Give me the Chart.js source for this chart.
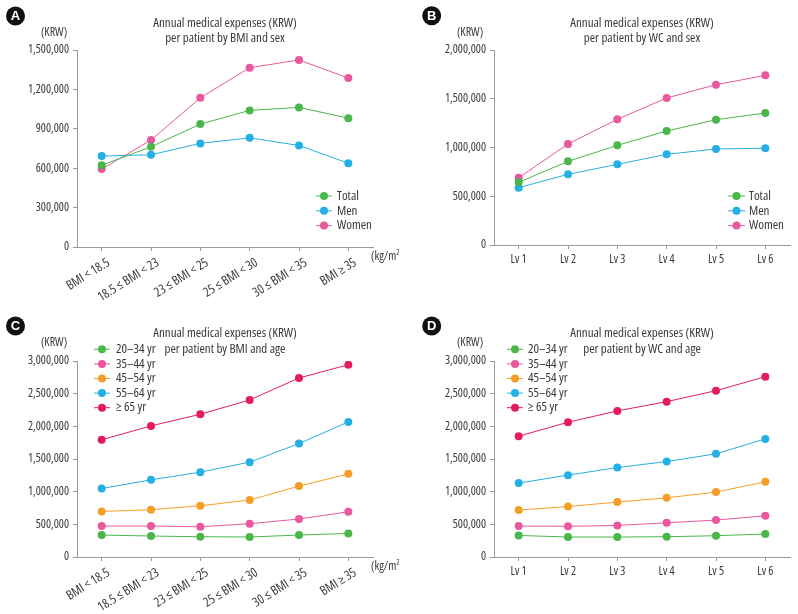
<!DOCTYPE html>
<html><head><meta charset="utf-8">
<script src="https://cdn.jsdelivr.net/npm/chart.js@4/dist/chart.umd.min.js"></script>
<style>
body{margin:0;background:#fff;width:798px;height:614px;position:relative;overflow:hidden}
.p{position:absolute;width:399px;height:307px}
</style></head><body>
<div class="p" style="left:0;top:0"><canvas id="cA" width="399" height="307"></canvas></div>
<div class="p" style="left:399px;top:0"><canvas id="cB" width="399" height="307"></canvas></div>
<div class="p" style="left:0;top:307px"><canvas id="cC" width="399" height="307"></canvas></div>
<div class="p" style="left:399px;top:307px"><canvas id="cD" width="399" height="307"></canvas></div>
<script>
// ---- data ----
const bmiLabels = ['BMI < 18.5', '18.5 \u2264 BMI < 23', '23 \u2264 BMI < 25', '25 \u2264 BMI < 30', '30 \u2264 BMI < 35', 'BMI \u2265 35'];
const wcLabels = ['Lv 1', 'Lv 2', 'Lv 3', 'Lv 4', 'Lv 5', 'Lv 6'];
const sexNames = ['Total', 'Men', 'Women'];
const ageNames = ['20\u201334 yr', '35\u201344 yr', '45\u201354 yr', '55\u201364 yr', '\u2265 65 yr'];

const aTotal = [623000, 763000, 936000, 1040000, 1063000, 981000];
const aMen   = [692000, 702000, 789000, 831000, 773000, 638000];
const aWomen = [593000, 814000, 1136000, 1365000, 1424000, 1286000];

const bTotal = [643000, 858000, 1022000, 1169000, 1285000, 1354000];
const bMen   = [588000, 725000, 827000, 930000, 985000, 992000];
const bWomen = [690000, 1036000, 1289000, 1508000, 1644000, 1740000];

const c2034 = [336000, 321000, 310000, 306000, 336000, 361000];
const c3544 = [474000, 474000, 463000, 509000, 581000, 692000];
const c4554 = [697000, 723000, 784000, 871000, 1085000, 1273000];
const c5564 = [1048000, 1181000, 1299000, 1452000, 1736000, 2068000];
const c65   = [1793000, 2007000, 2185000, 2404000, 2740000, 2943000];

const d2034 = [330000, 306000, 306000, 310000, 326000, 352000];
const d3544 = [474000, 470000, 483000, 524000, 565000, 631000];
const d4554 = [718000, 773000, 840000, 906000, 993000, 1151000];
const d5564 = [1131000, 1253000, 1369000, 1461000, 1579000, 1808000];
const d65   = [1849000, 2063000, 2236000, 2378000, 2546000, 2760000];

const yMaxA = 1500000, yStepA = 300000;
const yMaxB = 2000000, yStepB = 500000;
const yMaxCD = 3000000, yStepCD = 500000;

// ---- font choice: pick the narrowest installed face close to the reference width ----
function pickFont() {
  const c = document.createElement('canvas').getContext('2d');
  const cands = [
    { w: '', family: "'Liberation Sans Narrow'" },
    { w: '', family: "'Noto Sans ExtraCondensed'" },
    { w: 'extra-condensed', family: "'Noto Sans'" },
    { w: '', family: "'Noto Sans Condensed'" },
    { w: 'condensed', family: "'Noto Sans'" },
    { w: 'condensed', family: "'Open Sans'" },
    { w: '', family: "'DejaVu Sans Condensed'" },
    { w: 'condensed', family: "'DejaVu Sans'" },
    { w: '', family: "'Roboto'" }
  ];
  let best = cands[cands.length - 1], bd = 1e9;
  for (const f of cands) {
    c.font = '12px sans-serif';
    c.font = (f.w ? f.w + ' ' : '') + '12px ' + f.family + ', sans-serif';
    const w = c.measureText('1,500,000').width;
    const d = Math.abs(w - 43.5);
    if (d < bd) { bd = d; best = f; }
  }
  return best;
}
const PF = pickFont();
const FAMILY = PF.family + ", sans-serif";
const fstr = (size) => (PF.w ? PF.w + ' ' : '') + size + 'px ' + FAMILY;

const TXT = '#3a3a3a';
const AX = '#9a9a9a';
const GREEN = '#4bb74b', BLUE = '#26afe4', PINK = '#e9579c', ORANGE = '#f59e27', RED = '#e31d5b';

Chart.defaults.font.family = FAMILY;
Chart.defaults.font.size = 12;
if (PF.w) Chart.defaults.font.weight = PF.w;
Chart.defaults.color = TXT;

function ds(label, data, color) {
  return { label, data, borderColor: color, backgroundColor: color, borderWidth: 1,
           pointRadius: 4, pointHoverRadius: 4, pointBorderWidth: 0, tension: 0 };
}

const decor = {
  id: 'decor',
  afterDraw(chart, args, o) {
    const ctx = chart.ctx;
    ctx.save();
    ctx.fillStyle = '#111';
    ctx.beginPath(); ctx.arc(o.badge[0], o.badge[1], 9.5, 0, Math.PI * 2); ctx.fill();
    ctx.fillStyle = '#fff';
    ctx.font = "bold 13px 'Liberation Sans','DejaVu Sans',sans-serif";
    ctx.textAlign = 'center'; ctx.textBaseline = 'middle';
    ctx.fillText(o.letter, o.badge[0], o.badge[1] + 0.5);
    const ca = chart.chartArea;
    const cx = (ca.left + ca.right) / 2;
    ctx.fillStyle = TXT;
    ctx.font = fstr(13);
    ctx.fillText(o.title[0], cx, o.titleY[0]);
    ctx.fillText(o.title[1], cx, o.titleY[1]);
    ctx.font = fstr(12);
    ctx.fillText('(KRW)', o.krw[0], o.krw[1]);
    if (o.unit) {
      ctx.textAlign = 'left';
      ctx.fillText('(kg/m\u00B2)', o.unit[0], o.unit[1]);
    }
    const L = o.legend;
    chart.data.datasets.forEach((d, i) => {
      const y = L.y0 + i * L.dy;
      ctx.strokeStyle = d.borderColor; ctx.lineWidth = 1;
      ctx.beginPath(); ctx.moveTo(L.x0, y); ctx.lineTo(L.x1, y); ctx.stroke();
      ctx.fillStyle = d.borderColor;
      ctx.beginPath(); ctx.arc((L.x0 + L.x1) / 2, y, 4, 0, Math.PI * 2); ctx.fill();
      ctx.fillStyle = TXT; ctx.textAlign = 'left'; ctx.textBaseline = 'middle';
      ctx.font = fstr(13);
      ctx.fillText(d.label, L.tx, y);
    });
    ctx.restore();
  }
};

function make(id, labels, datasets, yMax, yStep, lay, rot, deco) {
  const rotated = rot !== 0;
  new Chart(document.getElementById(id), {
    type: 'line',
    data: { labels, datasets },
    plugins: [decor],
    options: {
      responsive: false, animation: false, devicePixelRatio: 1,
      layout: { padding: { left: 0, right: lay.right, top: lay.top, bottom: 0 } },
      plugins: { legend: { display: false }, tooltip: { enabled: false }, title: { display: false }, decor: deco },
      scales: {
        x: {
          type: 'category', offset: true,
          grid: { offset: false, drawOnChartArea: false, drawTicks: true, tickLength: 4, color: AX },
          border: { color: AX, width: 1 },
          ticks: { autoSkip: false, minRotation: rot, maxRotation: rot, padding: rotated ? 4 : 3,
                   labelOffset: rotated ? 7 : 0, color: TXT, font: { size: rotated ? 13 : 12 } },
          afterFit(s) { s.height = lay.xh; }
        },
        y: {
          min: 0, max: yMax,
          grid: { drawOnChartArea: false, drawTicks: true, tickLength: 4, color: AX },
          border: { color: AX, width: 1 },
          ticks: { stepSize: yStep, padding: 4, color: TXT, font: { size: 12 },
                   callback: v => Number(v).toLocaleString('en-US') },
          afterFit(s) { s.width = lay.yw; }
        }
      }
    }
  });
}

make('cA', bmiLabels, [ds(sexNames[0], aTotal, GREEN), ds(sexNames[1], aMen, BLUE), ds(sexNames[2], aWomen, PINK)],
  yMaxA, yStepA, { right: 26, top: 50, xh: 60, yw: 77 }, 32,
  { letter: 'A', badge: [15.5, 16], title: ['Annual medical expenses (KRW)', 'per patient by BMI and sex'], titleY: [23, 38],
    krw: [54, 33], unit: [371, 257], legend: { x0: 316, x1: 332, tx: 337, y0: 196, dy: 14.8 } });

make('cB', wcLabels, [ds(sexNames[0], bTotal, GREEN), ds(sexNames[1], bMen, BLUE), ds(sexNames[2], bWomen, PINK)],
  yMaxB, yStepB, { right: 8, top: 50, xh: 62, yw: 95 }, 0,
  { letter: 'B', badge: [32.7, 15.7], title: ['Annual medical expenses (KRW)', 'per patient by WC and sex'], titleY: [23, 38],
    krw: [71, 33], unit: null, legend: { x0: 329, x1: 346, tx: 350, y0: 196, dy: 14.8 } });

make('cC', bmiLabels, [ds(ageNames[0], c2034, GREEN), ds(ageNames[1], c3544, PINK), ds(ageNames[2], c4554, ORANGE), ds(ageNames[3], c5564, BLUE), ds(ageNames[4], c65, RED)],
  yMaxCD, yStepCD, { right: 26, top: 54, xh: 57, yw: 77 }, 32,
  { letter: 'C', badge: [15.5, 19], title: ['Annual medical expenses (KRW)', 'per patient by BMI and age'], titleY: [26, 42],
    krw: [54, 36], unit: [371, 260], legend: { x0: 94, x1: 110, tx: 116, y0: 42.3, dy: 14.6 } });

make('cD', wcLabels, [ds(ageNames[0], d2034, GREEN), ds(ageNames[1], d3544, PINK), ds(ageNames[2], d4554, ORANGE), ds(ageNames[3], d5564, BLUE), ds(ageNames[4], d65, RED)],
  yMaxCD, yStepCD, { right: 8, top: 54, xh: 57, yw: 95 }, 0,
  { letter: 'D', badge: [32.7, 19], title: ['Annual medical expenses (KRW)', 'per patient by WC and age'], titleY: [26, 42],
    krw: [71, 36], unit: null, legend: { x0: 108, x1: 124, tx: 129, y0: 42.3, dy: 14.6 } });
</script>
</body></html>
